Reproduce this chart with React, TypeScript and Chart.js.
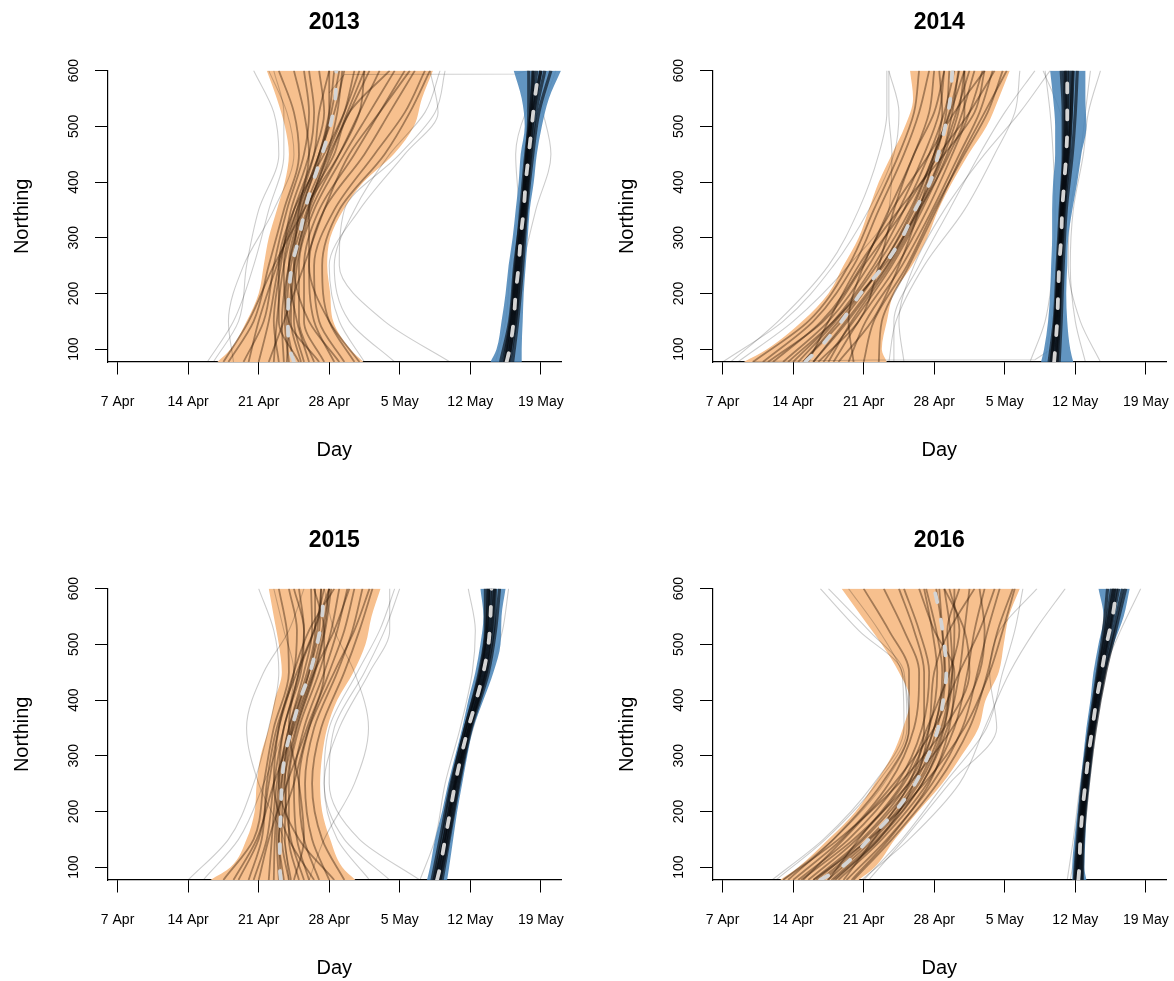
import React, { useEffect, useRef } from 'react';
import { Chart, registerables } from 'chart.js';

Chart.register(...registerables);

const FONT = "'Liberation Sans', Arial, Helvetica, sans-serif";

// Northing levels at which envelopes / medians are read (bottom of axis = 77)
const NORTHING_LEVELS = [77, 100, 150, 200, 250, 300, 350, 400, 450, 500, 550, 600];
// Northing levels at which individual tracks are read
const TRACK_LEVELS = [77, 150, 250, 350, 450, 525, 600];

// x axis: days after 7 Apr
const X_TICK_DAYS = [0, 7, 14, 21, 28, 35, 42];
const X_TICK_LABELS = ['7 Apr', '14 Apr', '21 Apr', '28 Apr', '5 May', '12 May', '19 May'];
const Y_TICKS = [100, 200, 300, 400, 500, 600];

// ---------------- 2013 ----------------
const Y2013_ORANGE_LEFT = [9.9, 11.2, 12.8, 14.0, 14.5, 15.0, 15.8, 16.6, 17.0, 16.6, 15.8, 14.8];
const Y2013_ORANGE_RIGHT = [24.4, 23.1, 21.4, 21.1, 20.8, 21.1, 22.4, 24.4, 27.4, 29.4, 30.2, 31.3];
const Y2013_ORANGE_MEDIAN = [17.5, 17.1, 16.9, 17.0, 17.3, 18.0, 18.6, 19.4, 20.3, 21.1, 21.6, 21.7];
const Y2013_BLUE_LEFT = [37.0, 37.6, 38.1, 38.5, 38.8, 39.2, 39.5, 39.8, 40.0, 40.4, 40.1, 39.3];
const Y2013_BLUE_RIGHT = [40.1, 40.1, 40.2, 40.3, 40.5, 40.7, 40.9, 41.3, 41.6, 42.1, 42.8, 44.0];
const Y2013_BLUE_MEDIAN = [38.6, 38.9, 39.3, 39.5, 39.8, 40.0, 40.3, 40.5, 40.8, 41.1, 41.4, 41.8];
const Y2013_ORANGE_TRACKS = [
  [11.0, 13.5, 15.0, 16.5, 18.0, 17.5, 16.0],
  [12.5, 14.5, 15.5, 16.8, 18.5, 19.0, 18.5],
  [14.0, 15.0, 16.0, 17.5, 19.5, 20.5, 20.0],
  [15.5, 15.8, 16.5, 18.0, 20.0, 21.5, 22.5],
  [16.5, 16.3, 17.0, 18.5, 20.8, 22.5, 23.5],
  [17.5, 16.8, 17.2, 18.8, 21.0, 23.0, 25.0],
  [18.5, 17.5, 17.8, 19.2, 22.0, 24.0, 26.0],
  [19.5, 18.0, 18.0, 19.5, 22.5, 25.0, 27.5],
  [20.5, 18.5, 18.5, 20.0, 23.5, 26.0, 28.5],
  [21.5, 19.5, 19.0, 20.5, 24.5, 27.0, 29.5],
  [22.5, 20.0, 19.5, 21.5, 25.5, 28.5, 30.5],
  [23.5, 21.0, 20.3, 22.0, 26.5, 29.0, 31.0],
  [16.0, 15.5, 16.2, 17.2, 19.0, 19.5, 19.0],
  [13.0, 14.0, 15.8, 17.8, 20.0, 21.0, 21.5],
  [20.0, 17.0, 16.5, 17.8, 19.5, 20.0, 21.0],
  [18.0, 16.0, 16.0, 17.5, 20.5, 22.5, 24.0],
  [22.0, 19.0, 17.5, 18.0, 19.0, 18.5, 17.5],
  [10.5, 13.0, 15.5, 18.5, 22.0, 24.0, 24.5],
  [24.0, 21.0, 19.0, 19.0, 21.5, 23.0, 27.0],
  [15.0, 16.5, 18.5, 20.5, 23.0, 26.0, 29.0],
  [17.0, 16.6, 17.0, 18.3, 20.0, 21.0, 21.0],
  [18.2, 17.2, 17.6, 18.9, 20.8, 21.8, 22.3],
  [16.8, 17.0, 17.5, 19.0, 21.2, 22.8, 24.5],
  [19.0, 17.8, 17.0, 18.2, 20.2, 21.2, 22.0],
];
const Y2013_GREY_TRACKS = [
  [8.9, 11.5, 13.5, 15.0, 16.5, 16.5, 15.5],
  [9.5, 12.0, 12.8, 14.0, 16.0, 15.5, 13.5],
  [11.5, 11.0, 12.5, 15.5, 17.5, 16.8, 15.0],
  [27.5, 23.0, 21.5, 23.5, 27.0, 30.5, 32.0],
  [33.0, 26.5, 22.0, 22.5, 28.0, 31.5, 32.5],
  [24.5, 22.0, 21.0, 24.0, 28.5, 31.8, 31.0],
  [37.5, 38.5, 39.0, 39.8, 40.8, 42.0, 43.5],
  [38.0, 39.2, 40.2, 41.5, 43.0, 42.2, 41.0],
  [38.5, 39.0, 39.5, 39.8, 39.5, 40.5, 42.8],
];
const Y2013_BLUE_TRACKS = [
  [38.3, 39.0, 39.5, 40.0, 40.5, 41.0, 41.3],
  [38.5, 39.2, 39.7, 40.2, 40.7, 41.1, 41.6],
  [38.7, 39.4, 39.9, 40.4, 40.9, 41.3, 42.0],
  [38.9, 39.5, 40.0, 40.5, 41.0, 41.5, 42.4],
  [38.0, 38.9, 39.4, 40.1, 40.6, 40.8, 40.8],
  [39.2, 39.7, 40.2, 40.6, 41.2, 41.8, 43.0],
  [38.4, 39.1, 39.6, 40.2, 40.6, 41.2, 42.0],
  [38.8, 39.3, 39.8, 40.3, 40.8, 41.0, 41.2],
];
const Y2013_LINK_DAYS = [21.0, 22.5, 39.5, 40.8];
const Y2013_LINK_NORTHING = [560, 593, 594, 600];

// ---------------- 2014 ----------------
const Y2014_ORANGE_LEFT = [2.1, 4.4, 7.9, 10.5, 12.0, 13.5, 14.5, 15.5, 16.8, 18.1, 18.9, 18.6];
const Y2014_ORANGE_RIGHT = [16.3, 15.8, 16.3, 17.0, 18.8, 20.3, 21.4, 22.8, 24.4, 26.2, 27.4, 28.5];
const Y2014_ORANGE_MEDIAN = [8.2, 9.5, 11.8, 13.7, 16.0, 17.8, 19.1, 20.6, 21.4, 22.1, 22.6, 22.8];
const Y2014_BLUE_LEFT = [31.6, 31.9, 32.3, 32.5, 32.6, 32.7, 32.7, 32.8, 33.0, 33.0, 32.8, 32.5];
const Y2014_BLUE_RIGHT = [34.8, 34.5, 34.2, 34.1, 34.2, 34.3, 34.7, 35.2, 35.6, 36.1, 36.0, 36.0];
const Y2014_BLUE_MEDIAN = [32.9, 33.0, 33.2, 33.3, 33.4, 33.6, 33.7, 33.9, 34.1, 34.2, 34.2, 34.2];
const Y2014_ORANGE_TRACKS = [
  [3.0, 8.5, 12.5, 15.0, 17.5, 19.0, 19.5],
  [4.0, 9.0, 13.0, 15.5, 18.0, 19.5, 20.5],
  [5.0, 9.8, 13.8, 16.5, 19.0, 20.5, 21.0],
  [6.0, 10.5, 14.5, 17.5, 20.0, 21.5, 22.0],
  [7.0, 11.0, 15.0, 18.0, 20.5, 22.0, 23.0],
  [8.0, 11.5, 15.8, 18.8, 21.0, 22.5, 23.5],
  [9.0, 12.2, 16.3, 19.3, 21.8, 23.2, 24.5],
  [10.0, 13.0, 16.8, 19.8, 22.3, 23.8, 25.0],
  [11.0, 13.5, 17.3, 20.3, 22.8, 24.5, 25.8],
  [12.5, 14.2, 17.8, 20.8, 23.5, 25.5, 26.8],
  [14.0, 15.0, 18.3, 21.0, 24.0, 26.3, 27.8],
  [15.5, 15.8, 18.5, 21.2, 23.8, 26.0, 28.2],
  [6.5, 11.0, 16.0, 19.5, 22.5, 24.0, 24.0],
  [9.5, 13.5, 15.5, 17.0, 19.0, 21.0, 22.0],
  [13.0, 12.5, 14.0, 16.8, 20.5, 23.0, 26.0],
  [4.5, 10.0, 14.0, 18.0, 21.5, 24.5, 27.0],
  [8.5, 10.5, 13.5, 17.5, 22.0, 25.0, 26.0],
  [11.5, 14.8, 17.5, 19.5, 21.0, 21.8, 21.5],
  [8.0, 11.8, 15.8, 19.0, 21.2, 22.2, 22.5],
  [9.0, 12.4, 16.4, 19.4, 21.8, 22.8, 23.4],
  [7.5, 11.2, 15.3, 18.6, 21.0, 22.6, 24.0],
  [10.5, 12.8, 16.6, 19.6, 22.0, 23.4, 24.0],
];
const Y2014_GREY_TRACKS = [
  [0.0, 6.0, 11.0, 14.5, 17.0, 17.5, 16.5],
  [0.8, 5.5, 10.5, 13.5, 15.5, 16.3, 16.3],
  [1.5, 7.0, 12.5, 16.5, 16.8, 16.5, 16.5],
  [17.0, 17.0, 19.5, 22.5, 25.5, 28.0, 31.0],
  [18.0, 17.5, 19.0, 22.0, 26.0, 29.5, 32.5],
  [16.5, 17.2, 20.0, 24.0, 27.0, 29.0, 29.5],
  [30.5, 32.0, 32.8, 33.0, 32.8, 32.5, 32.0],
  [36.0, 35.0, 34.5, 34.8, 35.8, 36.3, 37.5],
  [37.5, 35.5, 34.3, 34.5, 35.5, 36.0, 36.5],
  [32.0, 32.6, 33.2, 33.8, 34.2, 33.5, 31.8],
];
const Y2014_BLUE_TRACKS = [
  [32.6, 33.0, 33.3, 33.6, 34.0, 34.1, 34.0],
  [32.8, 33.1, 33.4, 33.7, 34.1, 34.2, 34.2],
  [33.0, 33.3, 33.5, 33.8, 34.2, 34.4, 34.4],
  [33.2, 33.4, 33.6, 33.9, 34.4, 34.6, 34.7],
  [32.4, 32.9, 33.2, 33.5, 33.8, 33.8, 33.6],
  [33.4, 33.6, 33.8, 34.1, 34.7, 35.0, 35.2],
  [32.7, 33.0, 33.4, 33.8, 34.3, 34.6, 34.8],
  [33.1, 33.3, 33.5, 33.6, 33.9, 34.0, 33.9],
];
const Y2014_LINK_DAYS = [3.0, 15.0, 31.0, 32.6];
const Y2014_LINK_NORTHING = [78, 80.5, 81, 100];

// ---------------- 2015 ----------------
const Y2015_ORANGE_LEFT = [9.2, 11.2, 12.8, 13.6, 13.8, 14.2, 15.0, 15.6, 16.3, 16.0, 15.5, 15.0];
const Y2015_ORANGE_RIGHT = [23.6, 22.3, 21.1, 20.3, 20.1, 20.3, 20.8, 21.8, 23.4, 24.6, 25.2, 26.1];
const Y2015_ORANGE_MEDIAN = [16.2, 16.1, 16.1, 16.2, 16.3, 16.6, 17.3, 18.1, 19.1, 19.8, 20.3, 20.4];
const Y2015_BLUE_LEFT = [30.7, 31.0, 31.5, 32.2, 32.8, 33.5, 34.2, 34.8, 35.5, 36.0, 36.3, 36.0];
const Y2015_BLUE_RIGHT = [32.7, 32.9, 33.3, 33.7, 34.2, 34.7, 35.3, 36.3, 37.3, 38.0, 38.1, 38.5];
const Y2015_BLUE_MEDIAN = [31.7, 32.0, 32.5, 33.0, 33.5, 34.1, 34.8, 35.6, 36.3, 36.8, 37.0, 37.1];
const Y2015_ORANGE_TRACKS = [
  [10.5, 13.5, 14.5, 15.5, 17.0, 16.8, 16.0],
  [12.0, 14.0, 15.0, 16.0, 17.5, 17.8, 17.0],
  [13.5, 14.8, 15.5, 16.5, 18.0, 18.5, 18.0],
  [15.0, 15.3, 15.8, 17.0, 18.5, 19.3, 19.2],
  [16.0, 15.8, 16.2, 17.3, 19.0, 20.0, 20.2],
  [17.0, 16.3, 16.5, 17.7, 19.5, 20.5, 21.0],
  [18.0, 17.0, 17.0, 18.0, 20.0, 21.2, 22.0],
  [19.0, 17.8, 17.5, 18.5, 20.5, 21.8, 22.8],
  [20.0, 18.5, 18.0, 19.0, 21.0, 22.5, 23.5],
  [21.0, 19.3, 18.6, 19.5, 21.8, 23.3, 24.3],
  [22.5, 20.3, 19.3, 20.2, 22.5, 24.0, 25.3],
  [14.0, 15.0, 16.8, 18.8, 20.5, 20.5, 19.5],
  [19.5, 17.0, 15.5, 16.0, 17.5, 19.0, 21.5],
  [11.5, 13.8, 15.5, 17.5, 19.5, 21.5, 23.0],
  [21.5, 18.0, 16.0, 16.5, 18.2, 18.5, 17.5],
  [16.5, 16.0, 17.5, 19.0, 21.5, 23.5, 25.0],
  [17.5, 18.5, 18.0, 17.0, 18.0, 19.5, 20.5],
  [13.0, 14.3, 14.8, 15.8, 17.8, 19.5, 21.0],
  [16.2, 16.0, 16.3, 17.2, 19.0, 19.8, 20.2],
  [17.2, 16.6, 16.8, 17.8, 19.6, 20.6, 21.2],
  [15.5, 15.6, 16.0, 17.0, 18.8, 19.6, 19.6],
  [18.5, 17.2, 16.6, 17.4, 19.3, 20.3, 21.0],
];
const Y2015_GREY_TRACKS = [
  [7.0, 11.0, 13.5, 15.0, 16.0, 15.5, 14.0],
  [8.5, 12.0, 14.5, 16.5, 17.5, 16.5, 15.5],
  [17.0, 16.5, 14.0, 12.8, 14.5, 17.0, 18.5],
  [19.0, 20.5, 23.5, 24.9, 23.5, 21.5, 20.5],
  [30.0, 24.0, 21.0, 21.5, 24.5, 26.5, 28.0],
  [27.0, 22.5, 20.5, 21.0, 23.8, 26.0, 27.5],
  [25.0, 21.8, 20.5, 22.0, 25.0, 27.0, 27.0],
  [30.0, 31.5, 32.5, 34.0, 35.2, 35.5, 34.8],
  [31.2, 32.7, 33.8, 35.3, 37.0, 38.2, 38.8],
];
const Y2015_BLUE_TRACKS = [
  [31.4, 32.2, 33.2, 34.5, 36.0, 36.6, 36.8],
  [31.6, 32.4, 33.4, 34.7, 36.2, 36.8, 37.0],
  [31.8, 32.6, 33.6, 34.9, 36.4, 37.0, 37.2],
  [32.0, 32.8, 33.8, 35.0, 36.6, 37.3, 37.5],
  [31.2, 32.0, 33.1, 34.5, 35.9, 36.5, 36.5],
  [32.2, 32.9, 33.9, 35.1, 36.8, 37.5, 37.9],
  [31.5, 32.4, 33.5, 34.9, 36.5, 37.1, 37.4],
  [31.9, 32.6, 33.5, 34.7, 36.1, 36.7, 36.8],
];
const Y2015_LINK_DAYS: number[] = [];
const Y2015_LINK_NORTHING: number[] = [];

// ---------------- 2016 ----------------
const Y2016_ORANGE_LEFT = [5.7, 7.5, 10.5, 13.2, 15.1, 16.8, 17.9, 18.6, 17.5, 15.8, 13.8, 11.8];
const Y2016_ORANGE_RIGHT = [13.5, 15.1, 17.1, 19.4, 21.8, 23.7, 25.4, 26.1, 27.4, 27.9, 28.4, 29.5];
const Y2016_ORANGE_MEDIAN = [9.7, 11.8, 14.5, 17.1, 19.1, 20.4, 21.4, 21.9, 22.2, 22.0, 21.6, 21.0];
const Y2016_BLUE_LEFT = [34.7, 34.7, 34.9, 35.2, 35.5, 35.8, 36.1, 36.5, 36.8, 37.3, 37.8, 37.3];
const Y2016_BLUE_RIGHT = [36.1, 35.9, 36.0, 36.1, 36.4, 36.7, 37.0, 37.5, 38.0, 38.8, 39.8, 40.4];
const Y2016_BLUE_MEDIAN = [35.3, 35.4, 35.5, 35.7, 36.0, 36.3, 36.7, 37.1, 37.6, 38.1, 38.7, 39.1];
const Y2016_ORANGE_TRACKS = [
  [6.5, 11.0, 15.8, 18.5, 18.5, 16.5, 14.0],
  [7.0, 11.8, 16.5, 19.0, 19.5, 18.0, 16.0],
  [7.5, 12.5, 17.3, 19.8, 20.5, 19.5, 18.0],
  [8.5, 13.3, 18.0, 20.5, 21.3, 20.8, 20.0],
  [9.3, 14.0, 18.7, 21.0, 22.0, 21.8, 21.5],
  [10.0, 14.7, 19.3, 21.7, 22.8, 23.0, 23.0],
  [10.8, 15.3, 19.8, 22.3, 23.5, 24.0, 24.5],
  [11.5, 15.8, 20.3, 23.0, 24.3, 25.0, 26.0],
  [12.3, 16.3, 20.8, 23.8, 25.3, 26.3, 27.5],
  [13.0, 16.8, 21.3, 24.5, 26.3, 27.3, 28.8],
  [8.0, 12.0, 17.0, 21.0, 23.5, 25.5, 27.0],
  [12.0, 15.0, 18.5, 20.0, 20.0, 19.0, 17.5],
  [6.0, 11.5, 17.5, 22.0, 24.5, 24.0, 22.0],
  [9.0, 14.5, 20.0, 24.0, 26.5, 27.8, 29.0],
  [11.0, 15.5, 19.0, 20.5, 21.0, 22.5, 25.0],
  [10.5, 13.5, 17.8, 20.3, 22.5, 23.5, 22.5],
  [7.8, 13.0, 18.5, 22.8, 25.5, 26.0, 25.5],
  [12.8, 16.5, 20.5, 22.5, 23.0, 21.0, 19.5],
  [9.7, 14.4, 19.0, 21.3, 22.1, 21.8, 21.2],
  [10.4, 15.0, 19.5, 21.9, 22.8, 22.6, 22.0],
  [9.0, 13.8, 18.4, 21.0, 21.8, 21.2, 20.2],
  [11.2, 15.5, 19.8, 22.0, 22.5, 22.3, 23.5],
];
const Y2016_GREY_TRACKS = [
  [4.9, 10.0, 15.0, 18.0, 17.8, 13.5, 9.7],
  [5.3, 10.2, 15.3, 18.3, 18.0, 14.5, 10.5],
  [6.0, 11.0, 16.0, 18.5, 17.8, 15.5, 12.5],
  [14.5, 18.0, 22.5, 27.2, 26.5, 27.5, 31.2],
  [13.8, 18.5, 23.5, 26.0, 28.5, 31.0, 34.0],
  [14.0, 17.8, 22.0, 26.2, 27.8, 29.0, 29.8],
  [34.2, 34.8, 35.5, 36.4, 37.8, 39.5, 41.5],
  [34.5, 35.2, 35.8, 36.6, 37.6, 38.5, 40.0],
];
const Y2016_BLUE_TRACKS = [
  [35.0, 35.3, 35.8, 36.5, 37.3, 38.0, 38.6],
  [35.2, 35.4, 35.9, 36.6, 37.5, 38.3, 38.9],
  [35.4, 35.6, 36.1, 36.8, 37.7, 38.5, 39.3],
  [35.6, 35.7, 36.2, 36.9, 37.9, 38.8, 39.7],
  [34.9, 35.2, 35.7, 36.4, 37.2, 37.8, 38.2],
  [35.7, 35.8, 36.3, 37.0, 38.0, 39.0, 40.0],
  [35.1, 35.5, 36.0, 36.7, 37.6, 38.4, 39.1],
  [35.3, 35.5, 36.0, 36.6, 37.4, 38.1, 38.8],
];
const Y2016_LINK_DAYS: number[] = [];
const Y2016_LINK_NORTHING: number[] = [];

type PanelSpec = {
  title: string;
  orangeLeft: number[];
  orangeRight: number[];
  orangeMedian: number[];
  blueLeft: number[];
  blueRight: number[];
  blueMedian: number[];
  orangeTracks: number[][];
  greyTracks: number[][];
  blueTracks: number[][];
  linkDays: number[];
  linkNorthing: number[];
};

const PANELS: PanelSpec[] = [
  {
    title: '2013', orangeLeft: Y2013_ORANGE_LEFT, orangeRight: Y2013_ORANGE_RIGHT, orangeMedian: Y2013_ORANGE_MEDIAN,
    blueLeft: Y2013_BLUE_LEFT, blueRight: Y2013_BLUE_RIGHT, blueMedian: Y2013_BLUE_MEDIAN,
    orangeTracks: Y2013_ORANGE_TRACKS, greyTracks: Y2013_GREY_TRACKS, blueTracks: Y2013_BLUE_TRACKS,
    linkDays: Y2013_LINK_DAYS, linkNorthing: Y2013_LINK_NORTHING,
  },
  {
    title: '2014', orangeLeft: Y2014_ORANGE_LEFT, orangeRight: Y2014_ORANGE_RIGHT, orangeMedian: Y2014_ORANGE_MEDIAN,
    blueLeft: Y2014_BLUE_LEFT, blueRight: Y2014_BLUE_RIGHT, blueMedian: Y2014_BLUE_MEDIAN,
    orangeTracks: Y2014_ORANGE_TRACKS, greyTracks: Y2014_GREY_TRACKS, blueTracks: Y2014_BLUE_TRACKS,
    linkDays: Y2014_LINK_DAYS, linkNorthing: Y2014_LINK_NORTHING,
  },
  {
    title: '2015', orangeLeft: Y2015_ORANGE_LEFT, orangeRight: Y2015_ORANGE_RIGHT, orangeMedian: Y2015_ORANGE_MEDIAN,
    blueLeft: Y2015_BLUE_LEFT, blueRight: Y2015_BLUE_RIGHT, blueMedian: Y2015_BLUE_MEDIAN,
    orangeTracks: Y2015_ORANGE_TRACKS, greyTracks: Y2015_GREY_TRACKS, blueTracks: Y2015_BLUE_TRACKS,
    linkDays: Y2015_LINK_DAYS, linkNorthing: Y2015_LINK_NORTHING,
  },
  {
    title: '2016', orangeLeft: Y2016_ORANGE_LEFT, orangeRight: Y2016_ORANGE_RIGHT, orangeMedian: Y2016_ORANGE_MEDIAN,
    blueLeft: Y2016_BLUE_LEFT, blueRight: Y2016_BLUE_RIGHT, blueMedian: Y2016_BLUE_MEDIAN,
    orangeTracks: Y2016_ORANGE_TRACKS, greyTracks: Y2016_GREY_TRACKS, blueTracks: Y2016_BLUE_TRACKS,
    linkDays: Y2016_LINK_DAYS, linkNorthing: Y2016_LINK_NORTHING,
  },
];

const PANEL_W = 605;
const PANEL_H = 518;
const PANEL_POS = [[0, 0], [605, 0], [0, 518], [605, 518]];

const ORANGE_FILL = 'rgb(247,192,142)';
const BLUE_FILL = 'rgba(70,130,182,0.85)';
const ORANGE_TRACK = 'rgba(40,18,0,0.4)';
const BLUE_TRACK = 'rgba(6,10,14,0.62)';
const GREY_TRACK = 'rgba(0,0,0,0.2)';
const MEDIAN_COLOR = '#d4d4d4';

function toPoints(days: number[], northing: number[]) {
  return days.map((x, i) => ({ x, y: northing[i] }));
}

function buildDatasets(p: PanelSpec): any[] {
  const common: any = {
    pointRadius: 0, pointHoverRadius: 0, pointHitRadius: 0, clip: 0,
    cubicInterpolationMode: 'monotone', fill: false,
    borderColor: 'transparent', borderWidth: 0,
  };
  const ds: any[] = [];
  ds.push({ ...common, data: toPoints(p.orangeLeft, NORTHING_LEVELS), fill: '+1', backgroundColor: ORANGE_FILL, order: 30 });
  ds.push({ ...common, data: toPoints(p.orangeRight, NORTHING_LEVELS), order: 30 });
  p.greyTracks.forEach((t) => ds.push({ ...common, data: toPoints(t, TRACK_LEVELS), borderColor: GREY_TRACK, borderWidth: 1.1, order: 25 }));
  if (p.linkDays.length) {
    ds.push({ ...common, data: toPoints(p.linkDays, p.linkNorthing), borderColor: GREY_TRACK, borderWidth: 1.1, cubicInterpolationMode: 'default', tension: 0, order: 25 });
  }
  p.orangeTracks.forEach((t) => ds.push({ ...common, data: toPoints(t, TRACK_LEVELS), borderColor: ORANGE_TRACK, borderWidth: 1.8, order: 20 }));
  ds.push({ ...common, data: toPoints(p.blueLeft, NORTHING_LEVELS), fill: '+1', backgroundColor: BLUE_FILL, order: 15 });
  ds.push({ ...common, data: toPoints(p.blueRight, NORTHING_LEVELS), order: 15 });
  p.blueTracks.forEach((t) => ds.push({ ...common, data: toPoints(t, TRACK_LEVELS), borderColor: BLUE_TRACK, borderWidth: 3.2, order: 10 }));
  const median = { borderColor: MEDIAN_COLOR, borderWidth: 3.8, borderDash: [9, 18], borderCapStyle: 'round', order: 0 };
  ds.push({ ...common, ...median, data: toPoints(p.orangeMedian, NORTHING_LEVELS) });
  ds.push({ ...common, ...median, data: toPoints(p.blueMedian, NORTHING_LEVELS) });
  return ds;
}

function Panel({ spec }: { spec: PanelSpec }) {
  const ref = useRef<HTMLCanvasElement>(null);
  useEffect(() => {
    const axisGrid = { display: true, drawOnChartArea: false, drawTicks: true, tickLength: 12.5, color: '#000', lineWidth: 1 };
    const axisBorder = { display: true, color: '#000', width: 1.2 };
    const tickFont = { family: FONT, size: 14 };
    const chart = new Chart(ref.current as HTMLCanvasElement, {
      type: 'line',
      data: { datasets: buildDatasets(spec) },
      options: {
        animation: false,
        responsive: false,
        devicePixelRatio: 1,
        indexAxis: 'y',
        events: [],
        layout: { padding: { left: 0, right: 44, top: 0, bottom: 0 } },
        plugins: {
          legend: { display: false },
          tooltip: { enabled: false },
          title: {
            display: true, text: spec.title, fullSize: false, color: '#000',
            font: { family: FONT, size: 23, weight: 'bold' },
            padding: { top: 9, bottom: 34 },
          },
        },
        scales: {
          x: {
            type: 'linear', position: 'bottom', min: -1, max: 44,
            afterBuildTicks: (s: any) => { s.ticks = X_TICK_DAYS.map((v) => ({ value: v })); },
            afterFit: (s: any) => { s.height = 156; },
            ticks: {
              autoSkip: false, maxRotation: 0, minRotation: 0, padding: 19, color: '#000', font: tickFont,
              callback: (_v: any, i: number) => X_TICK_LABELS[i],
            },
            grid: axisGrid,
            border: axisBorder,
            title: { display: true, text: 'Day', color: '#000', font: { family: FONT, size: 20 }, padding: { top: 0, bottom: 56 } },
          },
          y: {
            type: 'linear', position: 'left', min: 77, max: 600,
            afterBuildTicks: (s: any) => { s.ticks = Y_TICKS.map((v) => ({ value: v })); },
            afterFit: (s: any) => { s.width = 107.5; },
            ticks: {
              minRotation: 90, maxRotation: 90, crossAlign: 'center', padding: 9, color: '#000', font: tickFont,
            },
            grid: axisGrid,
            border: axisBorder,
            title: { display: true, text: 'Northing', color: '#000', font: { family: FONT, size: 20 }, padding: { top: 10, bottom: 0 } },
          },
        },
      } as any,
    });
    return () => chart.destroy();
  }, [spec]);
  return <canvas ref={ref} width={PANEL_W} height={PANEL_H} style={{ display: 'block', width: PANEL_W, height: PANEL_H }} />;
}

export default function App() {
  return (
    <div style={{ position: 'absolute', left: 0, top: 0, width: 1174, height: 981, overflow: 'hidden', background: '#fff' }}>
      {PANELS.map((p, i) => (
        <div key={p.title} style={{ position: 'absolute', left: PANEL_POS[i][0], top: PANEL_POS[i][1], width: PANEL_W, height: PANEL_H }}>
          <Panel spec={p} />
        </div>
      ))}
    </div>
  );
}
